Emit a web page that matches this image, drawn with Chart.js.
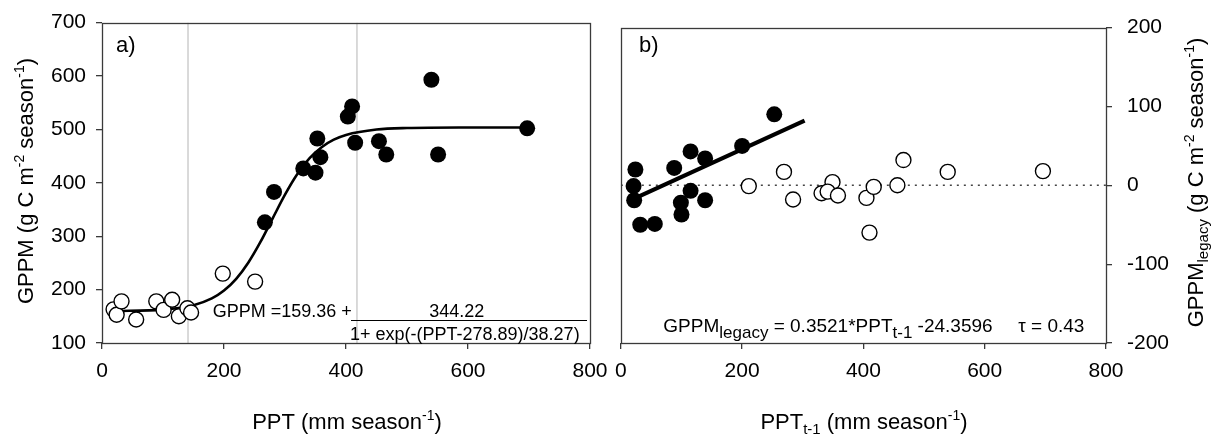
<!DOCTYPE html>
<html><head><meta charset="utf-8">
<script src="https://cdn.jsdelivr.net/npm/chart.js@4.4.0/dist/chart.umd.min.js"></script>
<style>
html,body{margin:0;padding:0;background:#fff;width:1213px;height:443px;overflow:hidden}
canvas{position:absolute;top:0}
#ca{left:0}
#cb{left:605px}
</style></head><body>
<canvas id="ca" width="620" height="443"></canvas>
<canvas id="cb" width="608" height="443"></canvas>
<script>
// ---------- data ----------
const xTicks = [0, 200, 400, 600, 800];
const yTicksA = [100, 200, 300, 400, 500, 600, 700];
const yTicksB = [-200, -100, 0, 100, 200];

// panel a: GPPM vs PPT
const aFilledPPT  = [540, 410, 403, 697, 353, 415, 454, 466, 551, 358, 330, 350, 282, 267];
const aFilledGPPM = [593, 543, 524, 502, 483, 475, 478, 453, 453, 448, 427, 419, 383, 326];
const aOpenPPT    = [19, 24, 32, 56, 89, 101, 115, 126, 140, 146, 198, 251];
const aOpenGPPM   = [163, 153, 178, 144, 178, 162, 181, 150, 165, 157, 230, 215];
// fitted sigmoid curve
const fitPPT  = [19, 100, 150, 180, 200, 220, 240, 260, 280, 300, 320, 340, 360, 380, 400, 450, 500, 600, 697];
const fitGPPM = [159.8, 162.5, 170.8, 183.5, 198.3, 220.2, 250.9, 289.8, 334.0, 377.8, 415.9, 445.6, 466.7, 480.7, 489.6, 499.7, 502.5, 503.5, 503.6];
const breakPPT = [141, 418];

// panel b: GPPM legacy vs PPT t-1
const bFilledPPT    = [253, 200, 115, 139, 88, 24, 21, 22, 115, 99, 139, 100, 32, 56];
const bFilledLegacy = [90, 50, 43, 34, 22, 20, -1, -19, -7, -22, -19, -37, -50, -49];
const bOpenPPT      = [211, 269, 284, 331, 349, 341, 358, 405, 417, 410, 456, 466, 539, 696];
const bOpenLegacy   = [-1, 17, -18, -10, 4, -8, -13, -16, -2, -60, 0, 32, 17, 18];
const regPPT    = [30, 303];
const regLegacy = [-14, 82];
const zeroPPT   = [0, 800];
const zeroVal   = [0, 0];

// ---------- helpers ----------
const FF = "'Liberation Sans', Arial, sans-serif";
const pts = (xs, ys) => xs.map((x, i) => ({x: x, y: ys[i]}));
function rich(ctx, segs, x, y, align, rot) {
  ctx.save();
  ctx.translate(x, y);
  if (rot) ctx.rotate(rot);
  let w = 0;
  segs.forEach(s => { ctx.font = s[1] + 'px ' + FF; w += ctx.measureText(s[0]).width; });
  let cx = align === 'center' ? -w / 2 : (align === 'right' ? -w : 0);
  ctx.textBaseline = 'alphabetic'; ctx.textAlign = 'left'; ctx.fillStyle = '#000';
  segs.forEach(s => {
    ctx.font = s[1] + 'px ' + FF;
    ctx.fillText(s[0], cx, s[2] || 0);
    cx += ctx.measureText(s[0]).width;
  });
  ctx.restore();
}
const frame = {
  id: 'frame',
  afterDraw(chart) {
    const c = chart.ctx, a = chart.chartArea;
    c.save();
    c.strokeStyle = '#3a3a3a'; c.lineWidth = 1.3;
    c.strokeRect(Math.round(a.left) + 0.5, Math.round(a.top) + 0.5, Math.round(a.right - a.left), Math.round(a.bottom - a.top));
    c.restore();
  }
};
function axisX(ticksArr, extra) {
  return Object.assign({
    type: 'linear', min: 0, max: 800,
    afterBuildTicks: s => { s.ticks = ticksArr.map(v => ({value: v})); },
    afterFit: s => { s.height = 100; },
    ticks: {font: {family: FF, size: 21}, color: '#000', padding: 10, maxRotation: 0, autoSkip: false},
    grid: {drawOnChartArea: false, drawTicks: true, tickLength: 6, color: '#3a3a3a', lineWidth: 1.3},
    border: {display: false}
  }, extra || {});
}
function axisY(min, max, ticksArr, pos, width, pad) {
  return {
    type: 'linear', min: min, max: max, position: pos,
    afterBuildTicks: s => { s.ticks = ticksArr.map(v => ({value: v})); },
    afterFit: s => { s.width = width; },
    ticks: {font: {family: FF, size: 21}, color: '#000', padding: pad, autoSkip: false},
    grid: {drawOnChartArea: false, drawTicks: true, tickLength: 6, color: '#3a3a3a', lineWidth: 1.3},
    border: {display: false}
  };
}
const common = {
  responsive: false, animation: false, events: [],
  plugins: {legend: {display: false}, tooltip: {enabled: false}}
};

// ---------- panel a ----------
const textA = {
  id: 'textA',
  afterDraw(chart) {
    const c = chart.ctx;
    rich(c, [['a)', 22]], 116, 52, 'left');
    rich(c, [['GPPM =159.36 +', 18]], 212.7, 317, 'left');
    rich(c, [['344.22', 18]], 456.7, 317, 'center');
    c.save(); c.strokeStyle = '#000'; c.lineWidth = 1;
    c.beginPath(); c.moveTo(351, 320.5); c.lineTo(587, 320.5); c.stroke(); c.restore();
    rich(c, [['1+ exp(-(PPT-278.89)/38.27)', 18]], 350, 339.5, 'left');
    rich(c, [['GPPM (g C m', 22], ['-2', 14, -9], [' season', 22], ['-1', 14, -9], [')', 22]], 33, 181, 'center', -Math.PI / 2);
    rich(c, [['PPT (mm season', 22], ['-1', 14, -9], [')', 22]], 347, 429, 'center');
  }
};
new Chart(document.getElementById('ca'), {
  type: 'scatter',
  data: {datasets: [
    {type: 'line', data: pts(fitPPT, fitGPPM), borderColor: '#000', borderWidth: 2.6, pointRadius: 0, cubicInterpolationMode: 'monotone', fill: false, order: 3},
    {type: 'line', data: pts([breakPPT[0], breakPPT[0]], [100, 700]), borderColor: '#b4b4b4', borderWidth: 1, pointRadius: 0, fill: false, order: 5},
    {type: 'line', data: pts([breakPPT[1], breakPPT[1]], [100, 700]), borderColor: '#b4b4b4', borderWidth: 1, pointRadius: 0, fill: false, order: 5},
    {data: pts(aOpenPPT, aOpenGPPM), pointRadius: 7.5, pointBackgroundColor: '#fff', pointBorderColor: '#000', pointBorderWidth: 1.4, order: 2},
    {data: pts(aFilledPPT, aFilledGPPM), pointRadius: 8, pointBackgroundColor: '#000', pointBorderColor: '#000', pointBorderWidth: 0, order: 1}
  ]},
  options: Object.assign({}, common, {
    layout: {padding: {left: 0, top: 19, right: 30, bottom: 0}},
    scales: {x: axisX(xTicks), y: axisY(100, 700, yTicksA, 'left', 102, 10)}
  }),
  plugins: [frame, textA]
});

// ---------- panel b ----------
const textB = {
  id: 'textB',
  afterDraw(chart) {
    const c = chart.ctx;
    rich(c, [['b)', 22]], 34, 52, 'left');
    rich(c, [['GPPM', 19], ['legacy', 17, 5.5], [' = 0.3521*PPT', 19], ['t-1', 17, 5.5], [' -24.3596', 19]], 58.3, 332, 'left');
    rich(c, [['\u03C4 = 0.43', 19]], 413.3, 332, 'left');
    rich(c, [['GPPM', 22], ['legacy', 15, 5], [' (g C m', 22], ['-2', 14, -9], [' season', 22], ['-1', 14, -9], [')', 22]], 598, 182.5, 'center', -Math.PI / 2);
    rich(c, [['PPT', 22], ['t-1', 15, 5], [' (mm season', 22], ['-1', 14, -9], [')', 22]], 259, 429, 'center');
  }
};
new Chart(document.getElementById('cb'), {
  type: 'scatter',
  data: {datasets: [
    {type: 'line', data: pts(zeroPPT, zeroVal), borderColor: '#444', borderWidth: 1.5, borderDash: [2, 5], pointRadius: 0, fill: false, order: 5},
    {data: pts(bOpenPPT, bOpenLegacy), pointRadius: 7.5, pointBackgroundColor: '#fff', pointBorderColor: '#000', pointBorderWidth: 1.4, order: 3},
    {type: 'line', data: pts(regPPT, regLegacy), borderColor: '#000', borderWidth: 4.2, pointRadius: 0, fill: false, order: 2},
    {data: pts(bFilledPPT, bFilledLegacy), pointRadius: 8, pointBackgroundColor: '#000', pointBorderColor: '#000', pointBorderWidth: 0, order: 1}
  ]},
  options: Object.assign({}, common, {
    layout: {padding: {left: 13, top: 19, right: 0, bottom: 0}},
    scales: {x: axisX(xTicks), y: axisY(-200, 200, yTicksB, 'right', 107, 15)}
  }),
  plugins: [frame, textB]
});
</script>
</body></html>
